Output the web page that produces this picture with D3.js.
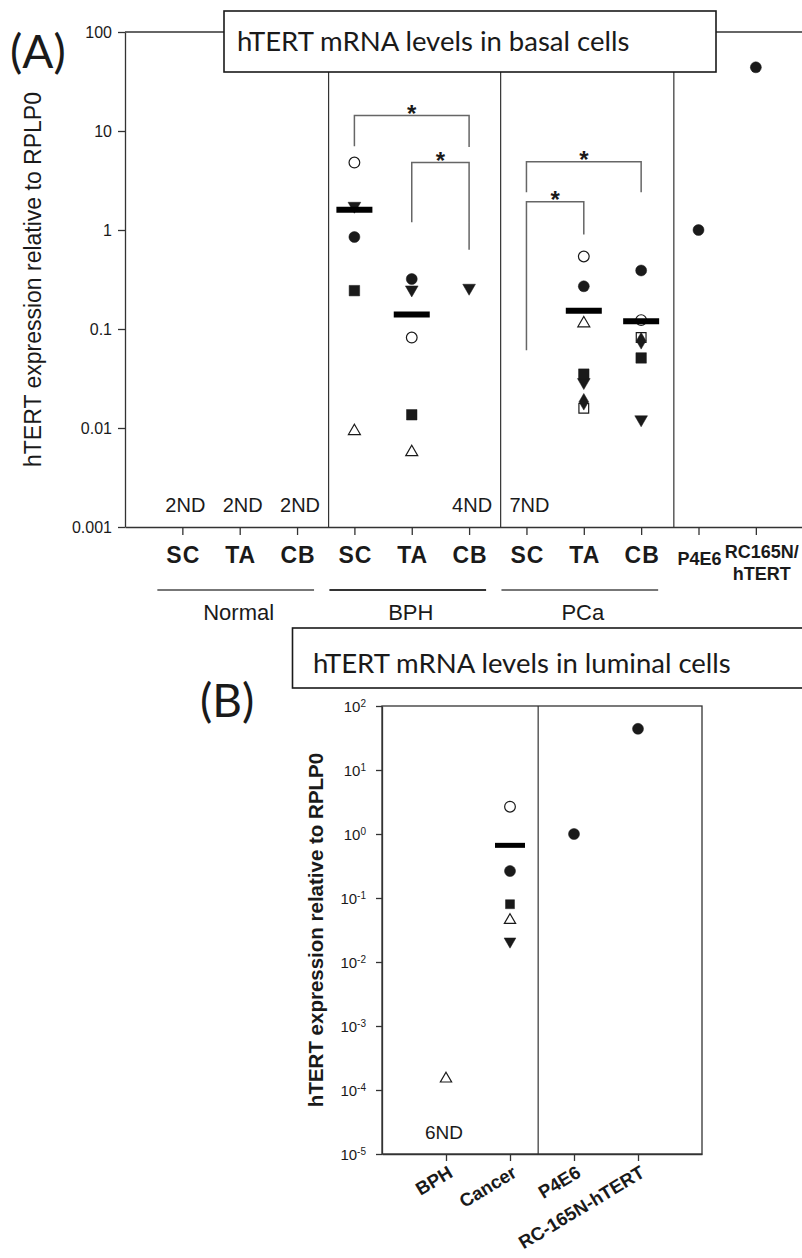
<!DOCTYPE html>
<html>
<head>
<meta charset="utf-8">
<script src="https://cdn.jsdelivr.net/npm/d3@7"></script>
<style>
  body { margin: 0; background: #fff; }
  svg { display: block; }
</style>
</head>
<body>
<svg id="chart" width="802" height="1258"></svg>
<script>
// ---------------- Panel A: basal cells ----------------
const basalCategories = ["SC", "TA", "CB", "SC", "TA", "CB", "SC", "TA", "CB", "P4E6", "RC165N/hTERT"];
const basalGroups = ["Normal", "BPH", "PCa"];
const basalGroupMembers = [[0, 2], [3, 5], [6, 8]];
const basalTicks = [0.001, 0.01, 0.1, 1, 10, 100];
const basalTickLabels = ["0.001", "0.01", "0.1", "1", "10", "100"];

// one series per sample symbol, values listed by category (null = not measured)
const basalOpenSquare       = [null, null, null, null, null, null, null, 0.0158, 0.082, null, null];
const basalOpenCircle       = [null, null, null, 4.8, 0.082, null, null, 0.54, 0.123, null, null];
const basalFilledCircle     = [null, null, null, 0.85, 0.32, null, null, 0.27, 0.39, 1.0, 44];
const basalFilledDownTri    = [null, null, null, 1.75, 0.25, 0.26, null, 0.029, 0.0122, null, null];
const basalFilledSquare     = [null, null, null, 0.244, 0.0136, null, null, 0.035, 0.051, null, null];
const basalOpenTriangle     = [null, null, null, 0.0093, 0.0057, null, null, 0.114, null, null, null];
const basalFilledDiamond    = [null, null, null, null, null, null, null, 0.0184, 0.076, null, null];
const basalMeans            = [null, null, null, 1.6, 0.14, null, null, 0.153, 0.12, null, null];
const basalNotDetected      = ["2ND", "2ND", "2ND", null, null, "4ND", "7ND", null, null, null, null];
// significant pairs: [first category, second category, bracket height, left leg end, right leg end]
const basalComparisons = [
  [3, 5, 14.3, 7.0, 6.9],
  [4, 5, 4.8, 1.2, 0.63],
  [6, 8, 4.9, 2.4, 2.4],
  [6, 7, 1.93, 0.061, 0.9]
];

// ---------------- Panel B: luminal cells ----------------
const luminalCategories = ["BPH", "Cancer", "P4E6", "RC-165N-hTERT"];
const luminalTicks = [1e-5, 1e-4, 1e-3, 1e-2, 1e-1, 1e0, 1e1, 1e2];
const luminalExponents = ["-5", "-4", "-3", "-2", "-1", "0", "1", "2"];

const luminalOpenCircle    = [null, 2.67, null, null];
const luminalFilledCircle  = [null, 0.264, 1.0, 44];
const luminalFilledSquare  = [null, 0.08, null, null];
const luminalOpenTriangle  = [1.5e-4, 0.045, null, null];
const luminalFilledDownTri = [null, 0.021, null, null];
const luminalMeans         = [null, 0.665, null, null];
const luminalNotDetected   = ["6ND", null, null, null];

// ---------------- drawing ----------------
const svg = d3.select("#chart");
const ARIAL = "Arial, 'Liberation Sans', sans-serif";
const TITLE_FONT = "Lato, 'Open Sans', sans-serif";
const INK = "#1a1a1a";

function symbolPath(kind, size) {
  const map = {
    circle: d3.symbolCircle, square: d3.symbolSquare,
    triangle: d3.symbolTriangle, downTriangle: d3.symbolTriangle,
    diamond: d3.symbolDiamond
  };
  return d3.symbol().type(map[kind]).size(size)();
}

function drawSeries(g, x, y, values, kind, filled, size) {
  const pts = values.map((v, i) => ({ i: i + 1, v })).filter(d => d.v != null);
  g.selectAll(null).data(pts).join("path")
    .attr("d", symbolPath(kind, size))
    .attr("transform", d => `translate(${x(d.i)},${y(d.v)})` + (kind === "downTriangle" ? " rotate(180)" : ""))
    .attr("fill", filled ? INK : "#fff")
    .attr("stroke", INK)
    .attr("stroke-width", filled ? 0.5 : 1.2);
}

function drawMeans(g, x, y, values, half, thick) {
  const pts = values.map((v, i) => ({ i: i + 1, v })).filter(d => d.v != null);
  g.selectAll(null).data(pts).join("line")
    .attr("x1", d => x(d.i) - half).attr("x2", d => x(d.i) + half)
    .attr("y1", d => y(d.v)).attr("y2", d => y(d.v))
    .attr("stroke", "#000").attr("stroke-width", thick);
}

// ===== Panel A =====
(function () {
  const left = 125, top = 32, bottom = 527, step = 57.35;
  const x = d3.scaleLinear().domain([0, 12]).range([left, left + 12 * step]);
  const y = d3.scaleLog().domain([0.001, 100]).range([bottom, top]);
  const g = svg.append("g");

  // group separators
  [3.55, 6.55, 9.57].forEach(p => {
    g.append("line").attr("x1", x(p)).attr("x2", x(p)).attr("y1", top).attr("y2", bottom)
      .attr("stroke", "#333").attr("stroke-width", 1.2);
  });
  // frame top
  g.append("line").attr("x1", left).attr("x2", x(12)).attr("y1", top).attr("y2", top)
    .attr("stroke", "#333").attr("stroke-width", 1.3);

  // left axis
  const ya = g.append("g").attr("transform", `translate(${left},0)`)
    .call(d3.axisLeft(y).tickValues(basalTicks).tickFormat((d, i) => basalTickLabels[i])
      .tickSize(7).tickPadding(6).tickSizeOuter(0));
  ya.select(".domain").attr("stroke", "#333").attr("stroke-width", 1.3);
  ya.selectAll(".tick line").attr("stroke", "#333").attr("stroke-width", 1.3);
  ya.selectAll("text").attr("font-family", ARIAL).attr("font-size", 16).attr("fill", INK);

  // bottom axis
  const xa = g.append("g").attr("transform", `translate(0,${bottom})`)
    .call(d3.axisBottom(x).tickValues(d3.range(1, 12)).tickFormat("").tickSize(8).tickSizeOuter(0));
  xa.select(".domain").attr("stroke", "#333").attr("stroke-width", 1.3);
  xa.selectAll(".tick line").attr("stroke", "#333").attr("stroke-width", 1.3);

  // category labels
  basalCategories.forEach((c, idx) => {
    const cx = x(idx + 1);
    if (idx < 9) {
      g.append("text").attr("x", cx + 1).attr("y", bottom + 36)
        .attr("text-anchor", "middle").attr("font-family", ARIAL).attr("font-weight", "bold")
        .attr("font-size", 23).attr("letter-spacing", 1).attr("fill", INK).text(c);
    } else if (c.includes("/")) {
      const parts = c.split("/");
      g.append("text").attr("x", cx + 6).attr("y", bottom + 31)
        .attr("text-anchor", "middle").attr("font-family", ARIAL).attr("font-weight", "bold")
        .attr("font-size", 18).attr("fill", INK).text(parts[0] + "/");
      g.append("text").attr("x", cx + 6).attr("y", bottom + 53)
        .attr("text-anchor", "middle").attr("font-family", ARIAL).attr("font-weight", "bold")
        .attr("font-size", 18).attr("fill", INK).text(parts[1]);
    } else {
      g.append("text").attr("x", cx + 1).attr("y", bottom + 38)
        .attr("text-anchor", "middle").attr("font-family", ARIAL).attr("font-weight", "bold")
        .attr("font-size", 18).attr("fill", INK).text(c);
    }
  });

  // group underlines and names
  basalGroups.forEach((name, k) => {
    const [a, b] = basalGroupMembers[k];
    const x1 = x(a + 1) - 25, x2 = x(b + 1) + 17;
    g.append("line").attr("x1", x1).attr("x2", x2).attr("y1", 590).attr("y2", 590)
      .attr("stroke", k === 1 ? "#333" : "#777").attr("stroke-width", 2);
    g.append("text").attr("x", (x1 + x2) / 2 + 3).attr("y", 620).attr("text-anchor", "middle")
      .attr("font-family", ARIAL).attr("font-size", 22).attr("fill", INK).text(name);
  });

  // not-detected counts
  basalNotDetected.forEach((t, idx) => {
    if (!t) return;
    g.append("text").attr("x", x(idx + 1) + 3).attr("y", bottom - 15).attr("text-anchor", "middle")
      .attr("font-family", ARIAL).attr("font-size", 20).attr("fill", INK).text(t);
  });

  // significance brackets
  basalComparisons.forEach(([a, b, h, l1, l2]) => {
    const xa1 = x(a + 1), xb = x(b + 1);
    g.append("path")
      .attr("d", `M${xa1},${y(l1)}V${y(h)}H${xb}V${y(l2)}`)
      .attr("fill", "none").attr("stroke", "#666").attr("stroke-width", 1.5);
    g.append("text").attr("x", (xa1 + xb) / 2).attr("y", y(h) + 6).attr("text-anchor", "middle")
      .attr("font-family", ARIAL).attr("font-weight", "bold").attr("font-size", 24).attr("fill", INK).text("*");
  });

  // sample points
  const pg = g.append("g");
  drawSeries(pg, x, y, basalOpenSquare, "square", false, 95);
  drawSeries(pg, x, y, basalOpenCircle, "circle", false, 90);
  drawSeries(pg, x, y, basalFilledCircle, "circle", true, 95);
  drawSeries(pg, x, y, basalFilledDownTri, "downTriangle", true, 70);
  drawSeries(pg, x, y, basalFilledSquare, "square", true, 110);
  drawSeries(pg, x, y, basalOpenTriangle, "triangle", false, 62);
  drawSeries(pg, x, y, basalFilledDiamond, "diamond", true, 80);
  drawMeans(pg, x, y, basalMeans, 18, 6);

  // axis title
  g.append("text").attr("transform", `translate(33,${(top + bottom) / 2}) rotate(-90)`)
    .attr("dy", "0.35em").attr("text-anchor", "middle").attr("font-family", ARIAL)
    .attr("font-size", 23).attr("fill", INK).text("hTERT expression relative to RPLP0");

  // title box
  g.append("rect").attr("x", 224).attr("y", 11).attr("width", 492).attr("height", 61)
    .attr("fill", "#fff").attr("stroke", INK).attr("stroke-width", 1.6);
  g.append("text").attr("x", 237).attr("y", 51).attr("font-family", TITLE_FONT)
    .attr("font-size", 27.5).attr("fill", INK).text("hTERT mRNA levels in basal cells");

  // panel letter
  svg.append("text").attr("x", 10).attr("y", 68).attr("font-family", TITLE_FONT)
    .attr("font-size", 46).attr("fill", INK).text("(A)");
})();

// ===== Panel B =====
(function () {
  const left = 382, top = 706, bottom = 1154, step = 64;
  const x = d3.scaleLinear().domain([0, 5]).range([left, left + 5 * step]);
  const y = d3.scaleLog().domain([1e-5, 1e2]).range([bottom, top]);
  const g = svg.append("g");

  // title box
  g.append("rect").attr("x", 292.5).attr("y", 628).attr("width", 620).attr("height", 60)
    .attr("fill", "#fff").attr("stroke", INK).attr("stroke-width", 1.6);
  g.append("text").attr("x", 313).attr("y", 673).attr("font-family", TITLE_FONT)
    .attr("font-size", 27.5).attr("fill", INK).text("hTERT mRNA levels in luminal cells");
  svg.append("text").attr("x", 200).attr("y", 717).attr("font-family", TITLE_FONT)
    .attr("font-size", 46).attr("fill", INK).text("(B)");

  // frame and separator
  g.append("rect").attr("x", left).attr("y", top).attr("width", x(5) - left).attr("height", bottom - top)
    .attr("fill", "none").attr("stroke", "#333").attr("stroke-width", 1.3);
  g.append("line").attr("x1", x(2.44)).attr("x2", x(2.44)).attr("y1", top).attr("y2", bottom)
    .attr("stroke", "#333").attr("stroke-width", 1.2);

  // left axis with power-of-ten labels
  const ya = g.append("g").attr("transform", `translate(${left},0)`)
    .call(d3.axisLeft(y).tickValues(luminalTicks).tickFormat("").tickSize(6).tickSizeOuter(0));
  ya.select(".domain").attr("stroke", "#333").attr("stroke-width", 1.3);
  ya.selectAll(".tick line").attr("stroke", "#333").attr("stroke-width", 1.3);
  ya.selectAll(".tick").each(function (d, i) {
    const t = d3.select(this).append("text").attr("x", -16).attr("dy", "0.36em")
      .attr("text-anchor", "end").attr("font-family", ARIAL).attr("font-size", 15).attr("fill", INK);
    t.append("tspan").text("10");
    t.append("tspan").attr("dy", "-0.45em").attr("font-size", 10).text(luminalExponents[i]);
  });

  // bottom axis
  const xa = g.append("g").attr("transform", `translate(0,${bottom})`)
    .call(d3.axisBottom(x).tickValues(d3.range(1, 5)).tickFormat("").tickSize(7).tickSizeOuter(0));
  xa.select(".domain").attr("stroke", "#333").attr("stroke-width", 1.3);
  xa.selectAll(".tick line").attr("stroke", "#333").attr("stroke-width", 1.3);
  luminalCategories.forEach((c, idx) => {
    g.append("text").attr("transform", `translate(${x(idx + 1) + 8},${bottom + 22}) rotate(-31)`)
      .attr("text-anchor", "end").attr("font-family", ARIAL).attr("font-weight", "bold")
      .attr("font-size", 18.5).attr("fill", INK).text(c);
  });

  luminalNotDetected.forEach((t, idx) => {
    if (!t) return;
    g.append("text").attr("x", x(idx + 1) - 2).attr("y", bottom - 15).attr("text-anchor", "middle")
      .attr("font-family", ARIAL).attr("font-size", 19).attr("fill", INK).text(t);
  });

  const pg = g.append("g");
  drawSeries(pg, x, y, luminalOpenCircle, "circle", false, 90);
  drawSeries(pg, x, y, luminalFilledCircle, "circle", true, 95);
  drawSeries(pg, x, y, luminalFilledSquare, "square", true, 80);
  drawSeries(pg, x, y, luminalOpenTriangle, "triangle", false, 55);
  drawSeries(pg, x, y, luminalFilledDownTri, "downTriangle", true, 60);
  drawMeans(pg, x, y, luminalMeans, 15, 5);

  g.append("text").attr("transform", `translate(316,${(top + bottom) / 2}) rotate(-90)`)
    .attr("dy", "0.35em").attr("text-anchor", "middle").attr("font-family", ARIAL)
    .attr("font-weight", "bold").attr("font-size", 20.5).attr("fill", INK)
    .text("hTERT expression relative to RPLP0");
})();
</script>
</body>
</html>
